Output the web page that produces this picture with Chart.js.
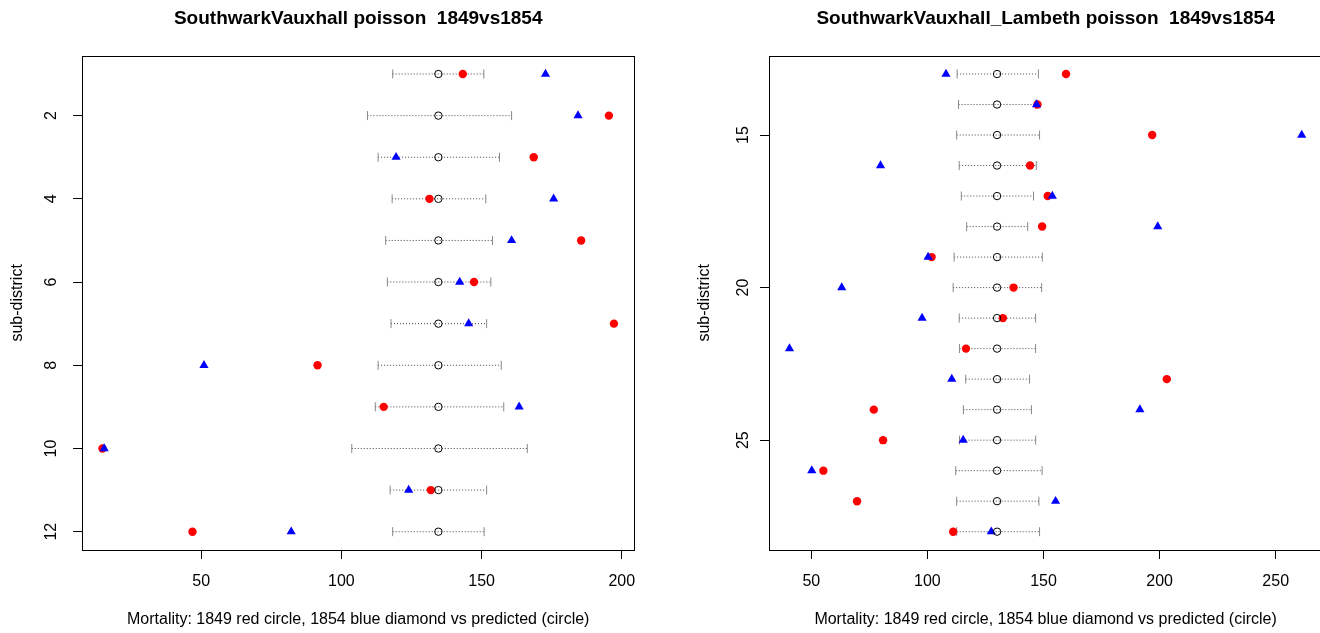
<!DOCTYPE html>
<html>
<head>
<meta charset="utf-8">
<script src="https://cdn.jsdelivr.net/npm/chart.js@4.4.1/dist/chart.umd.min.js"></script>
<style>
  html, body { margin: 0; padding: 0; background: #fff; overflow: hidden; }
  #wrap { position: relative; width: 1320px; height: 633px; overflow: hidden; }
  #left { position: absolute; left: 0; top: 0; }
  #right { position: absolute; left: 660px; top: 0; }
</style>
</head>
<body>
<div id="wrap">
  <canvas id="left" width="660" height="633"></canvas>
  <canvas id="right" width="700" height="633"></canvas>
</div>
<script>
// Left panel: SouthwarkVauxhall, sub-districts 1..12
const rowsA = [1, 2, 3, 4, 5, 6, 7, 8, 9, 10, 11, 12];
const predA = [134.6, 134.6, 134.6, 134.6, 134.6, 134.6, 134.6, 134.6, 134.6, 134.6, 134.6, 134.6];
const lowA = [118.3, 109.3, 113.1, 118.1, 115.8, 116.4, 117.7, 113.1, 112.1, 103.7, 117.4, 118.3];
const highA = [150.8, 160.7, 156.4, 151.5, 153.9, 153.3, 151.8, 157.0, 157.9, 166.3, 151.8, 150.9];
const mort1849A = [143.3, 195.4, 168.6, 131.4, 185.5, 147.3, 197.2, 91.5, 115.1, 14.8, 131.9, 46.9];
const mort1854A = [172.8, 184.4, 119.5, 175.7, 160.7, 142.2, 145.4, 51.0, 163.4, 15.4, 124.0, 82.1];
const xTicksA = [50, 100, 150, 200];
const yTicksA = [2, 4, 6, 8, 10, 12];

// Right panel: SouthwarkVauxhall_Lambeth, sub-districts 13..28
const rowsB = [13, 14, 15, 16, 17, 18, 19, 20, 21, 22, 23, 24, 25, 26, 27, 28];
const predB = [130, 130, 130, 130, 130, 130, 130, 130, 130, 130, 130, 130, 130, 130, 130, 130];
const lowB = [112.8, 113.4, 112.6, 113.7, 114.6, 116.9, 111.5, 111.1, 113.7, 113.8, 116.5, 115.5, 113.8, 112.2, 112.6, 112.6];
const highB = [147.8, 146.6, 148.3, 146.9, 145.7, 143.2, 149.5, 149.2, 146.6, 146.6, 144.0, 144.8, 146.6, 149.4, 148.0, 148.3];
const mort1849B = [159.7, 147.4, 196.8, 144.2, 151.8, 149.4, 101.8, 137.1, 132.5, 116.6, 203.1, 76.9, 80.9, 55.2, 69.7, 111.1];
const mort1854B = [108.0, 147.0, 261.2, 79.8, 153.8, 199.2, 100.3, 63.1, 97.7, 40.6, 110.5, 191.5, 115.4, 50.2, 155.2, 127.5];
const xTicksB = [50, 100, 150, 200, 250];
const yTicksB = [15, 20, 25];

const xLabel = "Mortality: 1849 red circle, 1854 blue diamond vs predicted (circle)";

Chart.defaults.font.family = "'Liberation Sans', Arial, Helvetica, sans-serif";
Chart.defaults.color = "#000";

// R style axis range: data range plus 4% each side
function rRange(vals) {
  const lo = Math.min(...vals), hi = Math.max(...vals);
  const d = (hi - lo) * 0.04;
  return [lo - d, hi + d];
}

// full box round the plot region like R's box()
const boxPlugin = {
  id: "box",
  afterDraw(chart) {
    const { ctx, chartArea: a } = chart;
    ctx.save();
    ctx.strokeStyle = "#000";
    ctx.lineWidth = 1;
    ctx.strokeRect(Math.round(a.left) + 0.5, Math.round(a.top) + 0.5,
      Math.round(a.right - a.left), Math.round(a.bottom - a.top));
    ctx.restore();
  }
};

function makePanel(id, p) {
  const xr = rRange([].concat(p.red, p.blue, p.low, p.high, p.pred));
  const yr = rRange(p.rows);

  const intervals = p.rows.map((r, i) => ({
    data: [{ x: p.low[i], y: r }, { x: p.high[i], y: r }],
    showLine: true,
    borderColor: "#444",
    borderWidth: 1,
    borderDash: [1, 2],
    pointStyle: "line",
    pointRotation: 90,
    pointRadius: 4.5,
    pointBorderColor: "#888",
    pointBorderWidth: 1,
    order: 4
  }));

  const datasets = intervals.concat([
    {
      label: "1849",
      data: p.rows.map((r, i) => ({ x: p.red[i], y: r })),
      pointStyle: "circle",
      pointRadius: 4.2,
      pointBackgroundColor: "#ff0000",
      pointBorderWidth: 0,
      order: 3
    },
    {
      label: "1854",
      data: p.rows.map((r, i) => ({ x: p.blue[i], y: r })),
      pointStyle: "triangle",
      pointRadius: 5.3,
      pointBackgroundColor: "#0000ff",
      pointBorderWidth: 0,
      order: 2
    },
    {
      label: "predicted",
      data: p.rows.map((r, i) => ({ x: p.pred[i], y: r })),
      pointStyle: "circle",
      pointRadius: 3.7,
      pointBackgroundColor: "rgba(0,0,0,0)",
      pointBorderColor: "#000",
      pointBorderWidth: 1,
      order: 1
    }
  ]);

  new Chart(document.getElementById(id), {
    type: "scatter",
    data: { datasets: datasets },
    plugins: [boxPlugin],
    options: {
      responsive: false,
      animation: false,
      events: [],
      layout: { padding: { left: 0, right: p.padRight, top: 0, bottom: 0 } },
      plugins: {
        legend: { display: false },
        tooltip: { enabled: false },
        title: {
          display: true,
          text: p.title,
          fullSize: false,
          color: "#000",
          font: { size: 19, weight: "bold" },
          padding: { top: 7, bottom: 25.9 }
        }
      },
      scales: {
        x: {
          type: "linear",
          min: xr[0],
          max: xr[1],
          afterBuildTicks: s => { s.ticks = p.xTicks.map(v => ({ value: v })); },
          afterFit: s => { s.height = 83; },
          grid: { display: true, drawOnChartArea: false, drawTicks: true, tickLength: 9, color: "#000" },
          border: { display: false },
          ticks: { autoSkip: false, maxRotation: 0, minRotation: 0, padding: 13, font: { size: 16 }, color: "#000" },
          title: { display: true, text: xLabel, color: "#000", font: { size: 16 }, padding: { top: 0, bottom: 4 } }
        },
        y: {
          type: "linear",
          reverse: true,
          min: yr[0],
          max: yr[1],
          afterBuildTicks: s => { s.ticks = p.yTicks.map(v => ({ value: v })); },
          afterFit: s => { s.width = p.yWidth; },
          grid: { display: true, drawOnChartArea: false, drawTicks: true, tickLength: 9, color: "#000" },
          border: { display: false },
          ticks: { minRotation: 90, maxRotation: 90, crossAlign: "center", padding: p.yTickPad, font: { size: 16 }, color: "#000" },
          title: { display: true, text: "sub-district", color: "#000", font: { size: 16 }, padding: { top: p.yTitlePad, bottom: 0 } }
        }
      }
    }
  });
}

makePanel("left", {
  title: "SouthwarkVauxhall poisson  1849vs1854",
  rows: rowsA, pred: predA, low: lowA, high: highA, red: mort1849A, blue: mort1854A,
  xTicks: xTicksA, yTicks: yTicksA,
  yWidth: 82, yTickPad: 13, yTitlePad: 8, padRight: 25.6
});

makePanel("right", {
  title: "SouthwarkVauxhall_Lambeth poisson  1849vs1854",
  rows: rowsB, pred: predB, low: lowB, high: highB, red: mort1849B, blue: mort1854B,
  xTicks: xTicksB, yTicks: yTicksB,
  yWidth: 109, yTickPad: 8, yTitlePad: 35, padRight: 37.8
});
</script>
</body>
</html>
